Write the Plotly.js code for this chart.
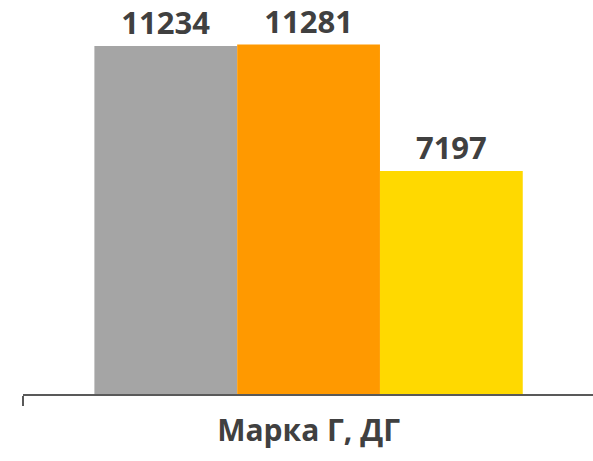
<!DOCTYPE html>
<html>
<head>
<meta charset="utf-8">
<script src="https://cdn.plot.ly/plotly-3.0.1.min.js"></script>
<style>
  html, body { margin: 0; padding: 0; background: #fff; }
  #chart { width: 593px; height: 461px; }
</style>
</head>
<body>
<div id="chart"></div>
<script>
const categories = ["Марка Г, ДГ"];
const seriesNames = ["Ряд 1", "Ряд 2", "Ряд 3"];
const seriesValues = [[11234], [11281], [7197]];
const seriesColors = ["#a5a5a5", "#ff9900", "#ffd900"];

const data = seriesValues.map((vals, i) => ({
  type: "bar",
  name: seriesNames[i],
  x: categories,
  y: vals,
  marker: { color: seriesColors[i], line: { width: 0 } },
  text: vals.map(String),
  textposition: "outside",
  cliponaxis: false,
  textfont: { family: "Open Sans", size: 31, color: "#404040", weight: "bold" },
  hoverinfo: "none",
  showlegend: false,
}));

const layout = {
  width: 593,
  height: 461,
  margin: { l: 23, r: 0, t: 0, b: 67 },
  paper_bgcolor: "#fff",
  plot_bgcolor: "#fff",
  barmode: "group",
  bargap: 0.25,
  bargroupgap: 0,
  font: { family: "Open Sans", color: "#404040" },
  xaxis: {
    type: "category",
    range: [-0.5, 0.498],
    showline: true,
    linecolor: "#595959",
    linewidth: 2,
    ticks: "outside",
    tickson: "boundaries",
    ticklen: 10,
    tickwidth: 1.5,
    tickcolor: "#595959",
    ticklabelstandoff: 9,
    showgrid: false,
    tickfont: { family: "Open Sans", size: 30, color: "#404040", weight: "bold" },
  },
  yaxis: {
    range: [0, 12719],
    visible: false,
    showgrid: false,
    zeroline: false,
  },
};

Plotly.newPlot("chart", data, layout, { staticPlot: true, displayModeBar: false });
</script>
</body>
</html>
